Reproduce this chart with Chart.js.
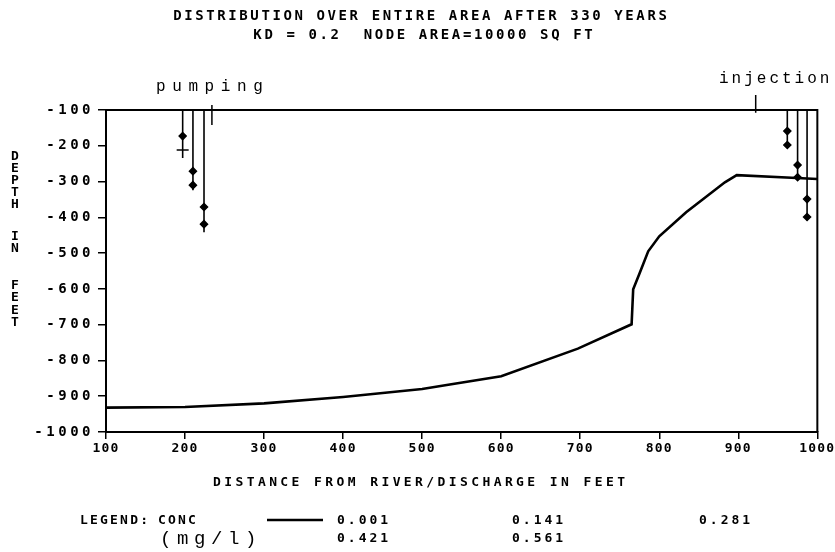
<!DOCTYPE html>
<html>
<head>
<meta charset="utf-8">
<script src="https://cdn.jsdelivr.net/npm/chart.js@4"></script>
<style>
    html, body { margin: 0; padding: 0; background: #fff; }
    #wrap { width: 835px; height: 552px; }
</style>
</head>
<body>
<div id="wrap"><canvas id="depthChart" width="835" height="552"></canvas></div>
<script>
// Contour 0.001 mg/l (distance in feet, depth in feet)
const contourX = [100, 200, 300, 400, 500, 535, 600, 697, 765, 767, 775, 786, 800, 834, 883, 898, 974, 1000];
const contourY = [-932, -930, -920, -902, -880, -867, -844, -767, -699, -601, -557, -495, -453, -386, -302, -282, -290, -293];

// Wells: position, marker depths and bottom of screen
const pumpX = [197, 210, 224];
const pumpMarks = [[-173, -212], [-271, -310], [-371, -419]];
const pumpEnd = [-234, -324, -442];
const injX = [962, 975, 987];
const injMarks = [[-159, -198], [-254, -288], [-349, -399]];
const injEnd = [-206, -296, -408];

// Short ticks above the top of the section
const markX = [234, 922];
const markTop = [-86, -58];
const markBottom = [-142, -108];

const xTicks = [100, 200, 300, 400, 500, 600, 700, 800, 900, 1000];
const yTicks = [-1000, -900, -800, -700, -600, -500, -400, -300, -200, -100];

const legendValues = ['0.001', '0.141', '0.281', '0.421', '0.561'];

const MONO = '"DejaVu Sans Mono", monospace';
const TYPE_FONT = '"Liberation Mono", "DejaVu Sans Mono", monospace';

function wellDataset(x, marks, end, barIndex) {
    const depths = [-100].concat(marks, [end]);
    const styles = depths.map((d, i) => (i === 0 || i === depths.length - 1) ? 'circle' : 'rectRot');
    const radii = depths.map((d, i) => (i === 0 || i === depths.length - 1) ? 0 : 3.5);
    if (barIndex != null) {
        styles[barIndex + 1] = 'line';
        radii[barIndex + 1] = 6;
    }
    return {
        data: depths.map(d => ({ x: x, y: d })),
        showLine: true,
        borderColor: '#000',
        backgroundColor: '#000',
        borderWidth: 1.6,
        pointStyle: styles,
        pointRadius: radii,
        pointBorderWidth: 1.5,
        pointBorderColor: '#000',
        pointBackgroundColor: '#000'
    };
}

function buildDatasets() {
    const sets = [{
        data: contourX.map((x, i) => ({ x: x, y: contourY[i] })),
        showLine: true,
        borderColor: '#000',
        borderWidth: 2.6,
        pointRadius: 0
    }];
    pumpX.forEach((x, i) => sets.push(wellDataset(x, pumpMarks[i], pumpEnd[i], i === 0 ? 1 : null)));
    injX.forEach((x, i) => sets.push(wellDataset(x, injMarks[i], injEnd[i], null)));
    markX.forEach((x, i) => sets.push({
        data: [{ x: x, y: markTop[i] }, { x: x, y: markBottom[i] }],
        showLine: true,
        borderColor: '#000',
        borderWidth: 1.5,
        pointRadius: 0,
        clip: false
    }));
    return sets;
}

function spacedText(ctx, text, x, y, spacing, align) {
    ctx.letterSpacing = spacing + 'px';
    const w = ctx.measureText(text).width - spacing;
    let sx = x;
    if (align === 'center') sx = x - w / 2;
    if (align === 'right') sx = x - w;
    ctx.textAlign = 'left';
    ctx.fillText(text, sx, y);
}

// letter spacing per axis, applied when that scale draws its labels
function spaceLabels(scale, spacing) {
    if (scale._spaced) return;
    const orig = scale.drawLabels;
    scale.drawLabels = function(area) {
        this.ctx.save();
        this.ctx.letterSpacing = spacing + 'px';
        orig.call(this, area);
        this.ctx.restore();
    };
    scale._spaced = true;
}

const annotations = {
    id: 'annotations',
    afterDraw(chart) {
        const ctx = chart.ctx;
        const area = chart.chartArea;
        ctx.save();
        ctx.fillStyle = '#000';
        ctx.strokeStyle = '#000';

        // frame (top and right)
        ctx.lineWidth = 2;
        ctx.beginPath();
        ctx.moveTo(area.left, area.top);
        ctx.lineTo(area.right, area.top);
        ctx.lineTo(area.right, area.bottom);
        ctx.stroke();

        ctx.textBaseline = 'middle';
        ctx.font = 'bold 14px ' + MONO;
        spacedText(ctx, 'DISTRIBUTION OVER ENTIRE AREA AFTER 330 YEARS', 420, 16, 2.6, 'center');
        spacedText(ctx, 'KD = 0.2  NODE AREA=10000 SQ FT', 423, 35, 2.6, 'center');

        // stacked y title
        ctx.font = 'bold 13px ' + MONO;
        const letters = ['D', 'E', 'P', 'T', 'H', 'I', 'N', 'F', 'E', 'E', 'T'];
        const letterY = [157, 169, 181, 193, 205, 237, 249, 286, 298, 311, 323];
        ctx.letterSpacing = '0px';
        ctx.textAlign = 'center';
        letters.forEach((l, i) => ctx.fillText(l, 15, letterY[i]));

        spacedText(ctx, 'DISTANCE FROM RIVER/DISCHARGE IN FEET', 213, 483, 3.4, 'left');

        // legend
        spacedText(ctx, 'LEGEND:', 80, 521, 2.2, 'left');
        spacedText(ctx, 'CONC', 158, 521, 2.2, 'left');
        const legX = [337, 512, 699, 337, 512];
        const legY = [521, 521, 521, 539, 539];
        legendValues.forEach((v, i) => spacedText(ctx, v, legX[i], legY[i], 3, 'left'));
        ctx.lineWidth = 2.6;
        ctx.beginPath();
        ctx.moveTo(267, 520);
        ctx.lineTo(323, 520);
        ctx.stroke();

        ctx.font = '19px ' + TYPE_FONT;
        spacedText(ctx, '(mg/l)', 160, 539, 5.6, 'left');

        ctx.font = '16px ' + TYPE_FONT;
        ctx.textBaseline = 'alphabetic';
        spacedText(ctx, 'pumping', 156, 91, 6.6, 'left');
        spacedText(ctx, 'injection', 719, 83, 3, 'left');
        ctx.restore();
    }
};

document.addEventListener('DOMContentLoaded', function() {
    const ctx = document.getElementById('depthChart').getContext('2d');
    new Chart(ctx, {
        type: 'scatter',
        data: { datasets: buildDatasets() },
        options: {
            responsive: false,
            animation: false,
            devicePixelRatio: 1,
            layout: { padding: { top: 110, right: 17, bottom: 0, left: 0 } },
            plugins: {
                legend: { display: false },
                tooltip: { enabled: false },
                title: { display: false }
            },
            scales: {
                x: {
                    type: 'linear',
                    min: 100,
                    max: 1000,
                    afterFit: function(scale) {
                        scale.height = 120;
                        spaceLabels(scale, 1.2);
                    },
                    afterBuildTicks: function(scale) { scale.ticks = xTicks.map(v => ({ value: v })); },
                    border: { display: true, color: '#000', width: 2 },
                    grid: { drawOnChartArea: false, drawTicks: true, tickLength: 7, color: '#000', lineWidth: 1.5 },
                    ticks: {
                        color: '#000',
                        font: { family: MONO, size: 13, weight: 'bold' },
                        padding: 2,
                        labelOffset: 0,
                        maxRotation: 0,
                        autoSkip: false,
                        callback: function(value) { return String(value); }
                    }
                },
                y: {
                    type: 'linear',
                    min: -1000,
                    max: -100,
                    afterFit: function(scale) {
                        scale.width = 106;
                        spaceLabels(scale, 3.5);
                    },
                    afterBuildTicks: function(scale) { scale.ticks = yTicks.map(v => ({ value: v })); },
                    border: { display: true, color: '#000', width: 2 },
                    grid: { drawOnChartArea: false, drawTicks: true, tickLength: 8, color: '#000', lineWidth: 1.5 },
                    ticks: {
                        color: '#000',
                        font: { family: MONO, size: 14, weight: 'bold' },
                        padding: 4,
                        autoSkip: false,
                        callback: function(value) { return String(value); }
                    }
                }
            }
        },
        plugins: [annotations]
    });
});
</script>
</body>
</html>
